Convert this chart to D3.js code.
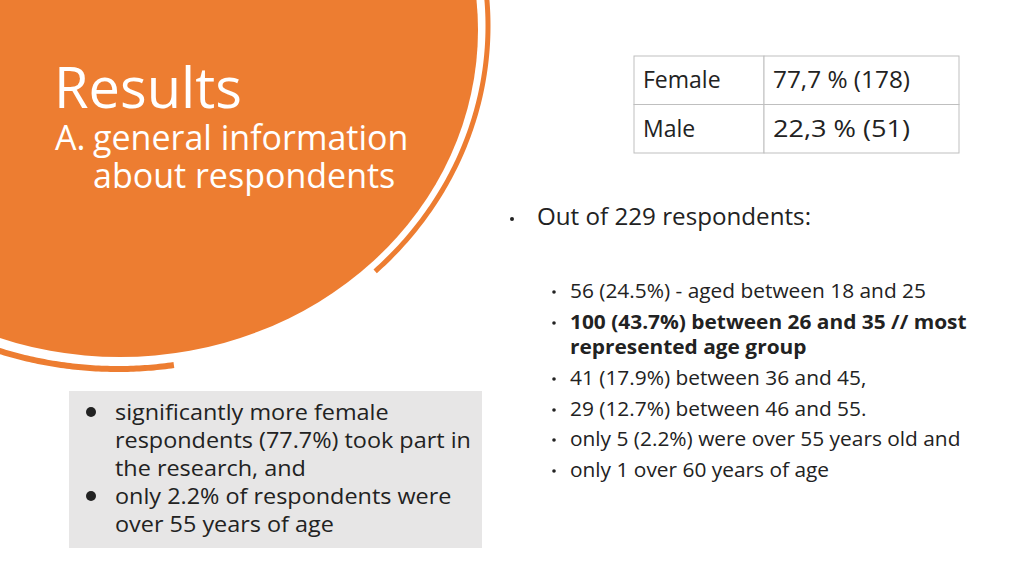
<!DOCTYPE html>
<html>
<head>
<meta charset="utf-8">
<script src="https://d3js.org/d3.v7.min.js"></script>
<style>
  body { margin: 0; background: #fff; }
  svg text { font-family: "Open Sans", Lato, sans-serif; }
</style>
</head>
<body>
<svg id="slide" width="1024" height="576"></svg>
<script>
// table data
const genders = ["Female", "Male"];
const genderShares = ["77,7 % (178)", "22,3 % (51)"];

// age list
const ageLines = [
  {text: "56 (24.5%) - aged between 18 and 25", bold: false, bullet: true},
  {text: "100 (43.7%) between 26 and 35 // most", bold: true, bullet: true},
  {text: "represented age group", bold: true, bullet: false},
  {text: "41 (17.9%) between 36 and 45,", bold: false, bullet: true},
  {text: "29 (12.7%) between 46 and 55.", bold: false, bullet: true},
  {text: "only 5 (2.2%) were over 55 years old and", bold: false, bullet: true},
  {text: "only 1 over 60 years of age", bold: false, bullet: true}
];

// summary box
const summaryLines = [
  {text: "significantly more female", bullet: true},
  {text: "respondents (77.7%) took part in", bullet: false},
  {text: "the research, and", bullet: false},
  {text: "only 2.2% of respondents were", bullet: true},
  {text: "over 55 years of age", bullet: false}
];

const orange = "#ed7d31";
const svg = d3.select("#slide");

// ellipse arc from angle a0 to a1 (radians)
function ellipseArc(cx, cy, rx, ry, a0, a1) {
  const pts = d3.range(0, 101).map(i => {
    const a = a0 + (a1 - a0) * i / 100;
    return [cx + rx * Math.cos(a), cy + ry * Math.sin(a)];
  });
  return d3.line()(pts);
}

// outer thin ring, right side and bottom pieces
svg.append("path")
  .attr("d", ellipseArc(116, 26, 372, 342, -0.3, 0.8))
  .attr("fill", "none").attr("stroke", orange).attr("stroke-width", 5);
svg.append("path")
  .attr("d", ellipseArc(118, 22, 372, 347, 1.42, 2.2))
  .attr("fill", "none").attr("stroke", orange).attr("stroke-width", 6);

// main blob
svg.append("ellipse")
  .attr("cx", 120).attr("cy", 30).attr("rx", 358).attr("ry", 327)
  .attr("fill", orange);

// title
svg.append("text").attr("x", 54).attr("y", 108)
  .attr("fill", "#fff").attr("font-size", 56).text("Results");
svg.append("text").attr("x", 55).attr("y", 150)
  .attr("fill", "#fff").attr("font-size", 34).text("A.");
svg.append("text").attr("x", 93).attr("y", 150)
  .attr("fill", "#fff").attr("font-size", 34).text("general information");
svg.append("text").attr("x", 93).attr("y", 188)
  .attr("fill", "#fff").attr("font-size", 34).text("about respondents");

// table
const colX = [634, 764, 959];
const rowY = d3.scaleBand().domain(genders).range([56, 153]);
const tbl = svg.append("g");
genders.forEach((g, i) => {
  const y0 = rowY(g), h = rowY.bandwidth();
  tbl.append("rect").attr("x", colX[0]).attr("y", y0)
    .attr("width", colX[1] - colX[0]).attr("height", h)
    .attr("fill", "#fff").attr("stroke", "#bfbfbf");
  tbl.append("rect").attr("x", colX[1]).attr("y", y0)
    .attr("width", colX[2] - colX[1]).attr("height", h)
    .attr("fill", "#fff").attr("stroke", "#bfbfbf");
  tbl.append("text").attr("x", colX[0] + 9).attr("y", y0 + h / 2 + 8)
    .attr("font-size", 23).attr("fill", "#222").text(g);
  tbl.append("text").attr("x", colX[1] + 9).attr("y", y0 + h / 2 + 8)
    .attr("font-size", 23).attr("fill", "#222")
    .attr("textLength", 137).attr("lengthAdjust", "spacingAndGlyphs").text(genderShares[i]);
});

// main bullet
svg.append("circle").attr("cx", 512).attr("cy", 219).attr("r", 2).attr("fill", "#222");
svg.append("text").attr("x", 537).attr("y", 225)
  .attr("font-size", 23).attr("fill", "#222")
  .attr("textLength", 274).attr("lengthAdjust", "spacingAndGlyphs").text("Out of 229 respondents:");

// age list
const ageBase = [298, 329, 354, 385, 416, 446, 477];
ageLines.forEach((d, i) => {
  if (d.bullet) svg.append("circle").attr("cx", 554).attr("cy", ageBase[i] - 6)
    .attr("r", 1.8).attr("fill", "#222");
  const t = svg.append("text").attr("x", 570).attr("y", ageBase[i])
    .attr("font-size", 19.5).attr("font-weight", d.bold ? "bold" : "normal")
    .attr("fill", "#222").text(d.text);
  // stretch a little toward the wider reference lines
  const w = t.node().getComputedTextLength();
  t.attr("textLength", w * 1.07).attr("lengthAdjust", "spacingAndGlyphs");
});

// summary box
svg.append("rect").attr("x", 69).attr("y", 391).attr("width", 413).attr("height", 157)
  .attr("fill", "#e7e6e6");
summaryLines.forEach((d, i) => {
  const y = 420 + i * 28;
  if (d.bullet) svg.append("circle").attr("cx", 91).attr("cy", y - 8)
    .attr("r", 5).attr("fill", "#222");
  const t = svg.append("text").attr("x", 115).attr("y", y)
    .attr("font-size", 22.5).attr("fill", "#222").text(d.text);
  const w = t.node().getComputedTextLength();
  t.attr("textLength", w * 1.04).attr("lengthAdjust", "spacingAndGlyphs");
});
</script>
</body>
</html>
